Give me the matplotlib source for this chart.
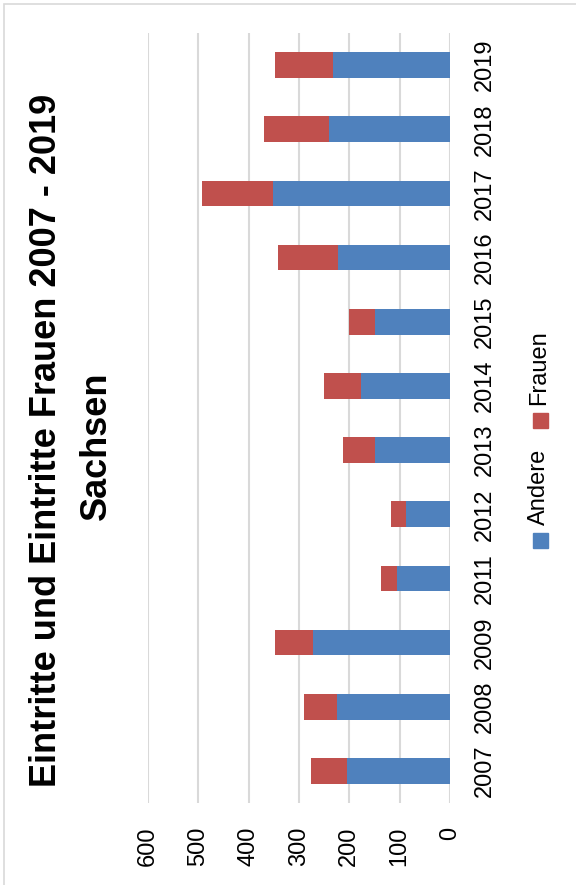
import matplotlib.pyplot as plt
from matplotlib.patches import Rectangle

years = ["2007", "2008", "2009", "2011", "2012", "2013", "2014", "2015", "2016", "2017", "2018", "2019"]
andere = [204, 224, 272, 105, 87, 149, 177, 149, 223, 351, 240, 233]
frauen = [72, 66, 76, 32, 30, 64, 74, 51, 118, 142, 129, 115]
value_ticks = [0, 100, 200, 300, 400, 500, 600]

BLUE = "#4F81BD"
RED = "#C0504D"
GRID = "#D9D9D9"
FONT = "Liberation Sans"

plt.rcParams["font.family"] = FONT

W, H = 576, 885
fig = plt.figure(figsize=(W / 100, H / 100), dpi=100)


def fx(px):
    return px / W


def fy(py):
    return 1 - py / H


# whole chart is laid out sideways: values run right-to-left, years bottom-to-top
ax = fig.add_axes([fx(148), fy(803), fx(450) - fx(148), fy(33) - fy(803)])
pos = list(range(len(years)))
ax.barh(pos, andere, height=0.4, color=BLUE, zorder=3)
ax.barh(pos, frauen, left=andere, height=0.4, color=RED, zorder=3)

ax.set_xlim(600, 0)
ax.set_ylim(-0.5, len(years) - 0.5)
ax.set_xticks(value_ticks)
ax.set_xticklabels([str(v) for v in value_ticks], rotation=90, va="top", ha="center")
ax.set_yticks(pos)
ax.set_yticklabels(years, rotation=90, va="center", ha="left")
ax.yaxis.tick_right()
ax.tick_params(axis="both", length=0, labelsize=17, colors="black")
ax.tick_params(axis="x", pad=17)
ax.tick_params(axis="y", pad=17)
ax.xaxis.grid(True, color=GRID, linewidth=1.5, zorder=0)
ax.set_axisbelow(True)
for s in ax.spines.values():
    s.set_visible(False)

# title
fig.text(fx(47), fy(440), "Eintritte und Eintritte Frauen 2007 - 2019", rotation=90,
         ha="center", va="center", fontsize=26, fontweight="bold")
fig.text(fx(96), fy(446), "Sachsen", rotation=90,
         ha="center", va="center", fontsize=26, fontweight="bold")

# legend, drawn by hand so it can sit sideways
sq = 15
for (label, color, sq_bottom, text_bottom) in [("Andere", BLUE, 548, 525), ("Frauen", RED, 428, 405)]:
    fig.patches.append(Rectangle((fx(533), fy(sq_bottom)), fx(sq), sq / H, color=color,
                                 transform=fig.transFigure))
    fig.text(fx(539), fy(text_bottom), label, rotation=90, ha="center", va="bottom",
             fontsize=17)

# thin chart frame
fig.patches.append(Rectangle((fx(4), fy(H + 10)), fx(W + 10), (H + 6) / H, fill=False,
                             edgecolor=GRID, linewidth=1.2, transform=fig.transFigure))

fig.savefig("out.png", dpi=100)
